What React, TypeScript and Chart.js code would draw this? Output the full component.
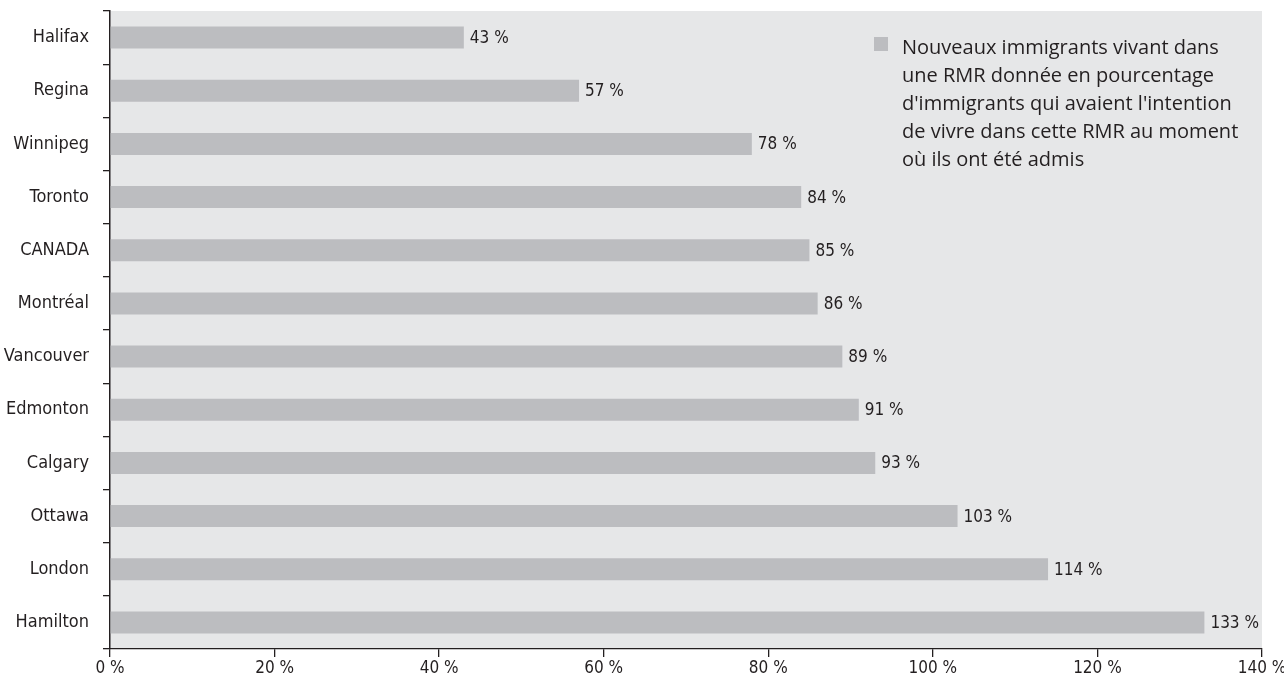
import React, { useEffect, useRef } from "react";
import { Chart, registerables } from "chart.js";

Chart.register(...registerables);

const categories = ["Halifax", "Regina", "Winnipeg", "Toronto", "CANADA", "Montréal", "Vancouver", "Edmonton", "Calgary", "Ottawa", "London", "Hamilton"];
const values = [43, 57, 78, 84, 85, 86, 89, 91, 93, 103, 114, 133];
const legendLines = [
  "Nouveaux immigrants vivant dans",
  "une RMR donnée en pourcentage",
  "d'immigrants qui avaient l'intention",
  "de vivre dans cette RMR au moment",
  "où ils ont été admis",
];

const FONT = "'DejaVu Sans Condensed', 'Liberation Sans Narrow', sans-serif";
const TEXT = "#231f20";
const BAR = "#bcbdc0";
const PLOT_BG = "#e6e7e8";

const bgPlugin = {
  id: "plotBg",
  beforeDraw(chart: any) {
    const { ctx, chartArea } = chart;
    ctx.save();
    ctx.fillStyle = PLOT_BG;
    ctx.fillRect(chartArea.left, chartArea.top, chartArea.right - chartArea.left, chartArea.bottom - chartArea.top);
    ctx.restore();
  },
};

const valuePlugin = {
  id: "valueLabels",
  afterDatasetsDraw(chart: any) {
    const { ctx } = chart;
    const meta = chart.getDatasetMeta(0);
    ctx.save();
    ctx.font = `17px ${FONT}`;
    ctx.fillStyle = TEXT;
    ctx.textAlign = "left";
    ctx.textBaseline = "middle";
    meta.data.forEach((bar: any, i: number) => {
      ctx.fillText(`${values[i]} %`, bar.x + 6, bar.y + 1);
    });
    ctx.restore();
  },
};

const legendPlugin = {
  id: "customLegend",
  afterDraw(chart: any) {
    const { ctx } = chart;
    ctx.save();
    ctx.fillStyle = BAR;
    ctx.fillRect(874, 37, 14, 14);
    ctx.font = `20px 'Open Sans', sans-serif`;
    ctx.fillStyle = TEXT;
    ctx.textAlign = "left";
    ctx.textBaseline = "alphabetic";
    legendLines.forEach((line, i) => {
      ctx.fillText(line, 902, 54 + i * 28);
    });
    ctx.restore();
  },
};

export default function App() {
  const ref = useRef<HTMLCanvasElement | null>(null);
  useEffect(() => {
    document.body.style.margin = "0";
    const chart = new Chart(ref.current as HTMLCanvasElement, {
      type: "bar",
      data: {
        labels: categories,
        datasets: [
          {
            label: legendLines.join(" "),
            data: values,
            backgroundColor: BAR,
            barPercentage: 0.415,
            categoryPercentage: 1,
          },
        ],
      },
      options: {
        indexAxis: "y",
        animation: false,
        responsive: false,
        layout: { padding: { left: 0, right: 22, top: 11, bottom: 0 } },
        plugins: { legend: { display: false }, tooltip: { enabled: false } },
        scales: {
          x: {
            min: 0,
            max: 140,
            ticks: {
              stepSize: 20,
              color: TEXT,
              font: { family: FONT, size: 17 },
              padding: 1,
              callback: (v: any) => `${v} %`,
            },
            grid: { drawOnChartArea: false, drawTicks: true, tickLength: 8, color: TEXT, lineWidth: 1.3 },
            border: { display: true, color: TEXT, width: 1.3 },
            afterFit: (s: any) => { s.height = 37; s.paddingLeft = 0; s.paddingRight = 0; },
          },
          y: {
            ticks: {
              color: TEXT,
              font: { family: FONT, size: 18 },
              padding: 14,
            },
            grid: { drawOnChartArea: false, drawTicks: true, tickLength: 7, color: TEXT, lineWidth: 1.3, offset: true },
            border: { display: true, color: TEXT, width: 1.5 },
            afterFit: (s: any) => { s.width = 110; s.paddingTop = 0; s.paddingBottom = 0; },
          },
        },
      },
      plugins: [bgPlugin, valuePlugin, legendPlugin],
    });
    return () => chart.destroy();
  }, []);
  return (
    <div style={{ width: 1284, height: 686 }}>
      <canvas ref={ref} width={1284} height={686} style={{ display: "block" }} />
    </div>
  );
}
